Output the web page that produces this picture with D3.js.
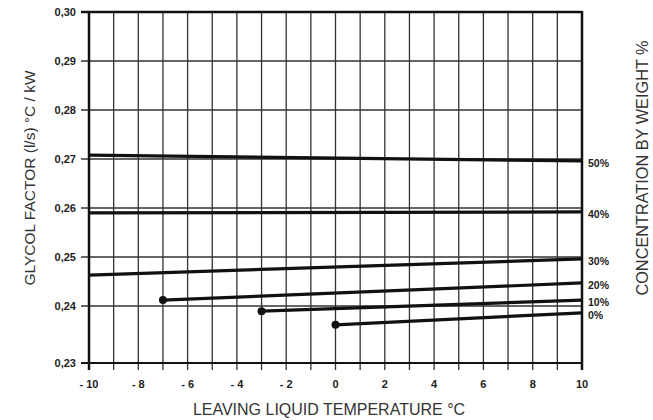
<!DOCTYPE html>
<html>
<head>
<meta charset="utf-8">
<script src="https://cdn.jsdelivr.net/npm/d3@7"></script>
<style>
  body { margin: 0; background: #fff; }
  svg text { font-family: "Liberation Sans", Arial, sans-serif; }
</style>
</head>
<body>
<script>
// data
var xTicks = [-10, -8, -6, -4, -2, 0, 2, 4, 6, 8, 10];
var yTicks = [0.23, 0.24, 0.25, 0.26, 0.27, 0.28, 0.29, 0.30];
var concLabels = ["50%", "40%", "30%", "20%", "10%", "0%"];
var startTemps = [-10, -10, -10, -7, -3, 0];
var endTemps = [10, 10, 10, 10, 10, 10];
var startValues = [0.2708, 0.2590, 0.2463, 0.2412, 0.2391, 0.2367];
var endValues = [0.2696, 0.2592, 0.2496, 0.2447, 0.2412, 0.2388];
var hasDot = [false, false, false, true, true, true];

var width = 653, height = 420;

var svg = d3.select("body").append("svg")
  .attr("width", width)
  .attr("height", height);

var x = d3.scaleLinear().domain([-10, 10]).range([89, 582]);
// the scan has a taller bottom band, so a piecewise scale
var y = d3.scaleLinear().domain([0.23, 0.24, 0.30]).range([363, 306, 12]);

// vertical grid
svg.append("g").selectAll("line")
  .data(d3.range(-9, 10))
  .enter().append("line")
  .attr("x1", function (d) { return x(d); })
  .attr("x2", function (d) { return x(d); })
  .attr("y1", y(0.30))
  .attr("y2", y(0.23) + 7)
  .attr("stroke", "#333")
  .attr("stroke-width", 1.3);

// horizontal grid
svg.append("g").selectAll("line")
  .data(yTicks)
  .enter().append("line")
  .attr("x1", x(-10) - 8)
  .attr("x2", x(10))
  .attr("y1", function (d) { return y(d); })
  .attr("y2", function (d) { return y(d); })
  .attr("stroke", "#333")
  .attr("stroke-width", 1.3);

// frame
svg.append("line").attr("x1", x(-10)).attr("x2", x(-10)).attr("y1", y(0.30) - 1).attr("y2", y(0.23) + 7)
  .attr("stroke", "#111").attr("stroke-width", 2.5);
svg.append("line").attr("x1", x(10)).attr("x2", x(10)).attr("y1", y(0.30) - 1).attr("y2", y(0.23) + 7)
  .attr("stroke", "#111").attr("stroke-width", 2.5);
svg.append("line").attr("x1", x(-10) - 8).attr("x2", x(10)).attr("y1", y(0.30)).attr("y2", y(0.30))
  .attr("stroke", "#111").attr("stroke-width", 2.5);
svg.append("line").attr("x1", x(-10) - 8).attr("x2", x(10)).attr("y1", y(0.23)).attr("y2", y(0.23))
  .attr("stroke", "#111").attr("stroke-width", 2);

// y tick labels
svg.append("g").selectAll("text")
  .data(yTicks)
  .enter().append("text")
  .attr("x", 76)
  .attr("y", function (d) { return y(d); })
  .attr("dy", "0.35em")
  .attr("text-anchor", "end")
  .attr("font-size", 11)
  .attr("font-weight", "bold")
  .attr("fill", "#222")
  .text(function (d) { return d3.format(".2f")(d).replace(".", ","); });

// x tick labels
svg.append("g").selectAll("text")
  .data(xTicks)
  .enter().append("text")
  .attr("x", function (d) { return x(d); })
  .attr("y", 388)
  .attr("text-anchor", "middle")
  .attr("font-size", 11)
  .attr("font-weight", "bold")
  .attr("fill", "#222")
  .text(function (d) { return d < 0 ? "- " + (-d) : String(d); });

// concentration lines
var lines = concLabels.map(function (c, i) {
  return { label: c, x0: startTemps[i], x1: endTemps[i], v0: startValues[i], v1: endValues[i], dot: hasDot[i] };
});

svg.append("g").selectAll("line")
  .data(lines)
  .enter().append("line")
  .attr("x1", function (d) { return x(d.x0); })
  .attr("x2", function (d) { return x(d.x1); })
  .attr("y1", function (d) { return y(d.v0); })
  .attr("y2", function (d) { return y(d.v1); })
  .attr("stroke", "#111")
  .attr("stroke-width", 3.2);

svg.append("g").selectAll("circle")
  .data(lines.filter(function (d) { return d.dot; }))
  .enter().append("circle")
  .attr("cx", function (d) { return x(d.x0); })
  .attr("cy", function (d) { return y(d.v0); })
  .attr("r", 4)
  .attr("fill", "#111");

svg.append("g").selectAll("text")
  .data(lines)
  .enter().append("text")
  .attr("x", x(10) + 6)
  .attr("y", function (d) { return y(d.v1) + 2; })
  .attr("dy", "0.35em")
  .attr("font-size", 10.5)
  .attr("font-weight", "bold")
  .attr("fill", "#222")
  .text(function (d) { return d.label; });

// axis titles
svg.append("text")
  .attr("x", 329)
  .attr("y", 415)
  .attr("text-anchor", "middle")
  .attr("font-size", 16)
  .attr("fill", "#333")
  .text("LEAVING LIQUID TEMPERATURE °C");

svg.append("text")
  .attr("transform", "translate(35,178) rotate(-90)")
  .attr("text-anchor", "middle")
  .attr("font-size", 15.5)
  .attr("fill", "#333")
  .text("GLYCOL FACTOR (l/s) °C / kW");

svg.append("text")
  .attr("transform", "translate(648,168) rotate(-90)")
  .attr("text-anchor", "middle")
  .attr("font-size", 16.3)
  .attr("fill", "#333")
  .text("CONCENTRATION BY WEIGHT %");
</script>
</body>
</html>
